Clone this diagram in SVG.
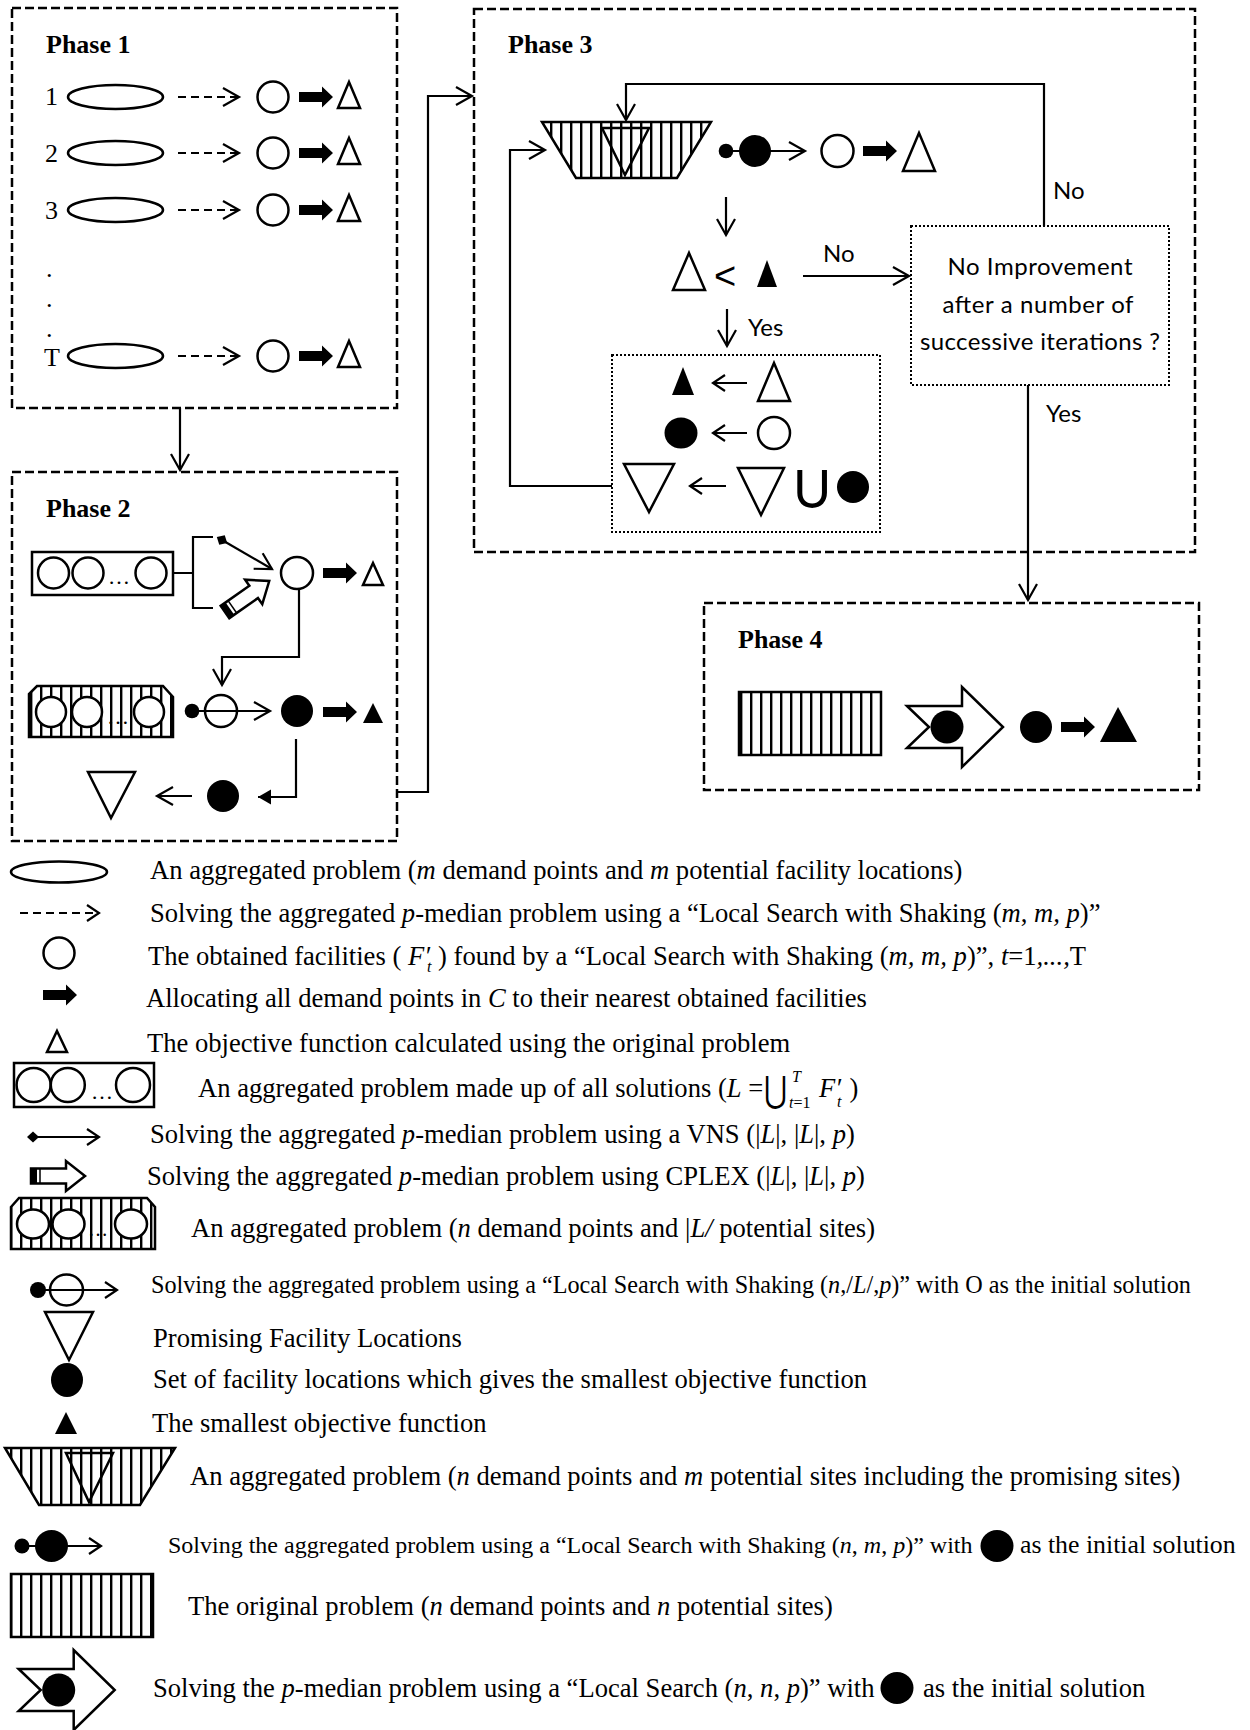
<svg xmlns="http://www.w3.org/2000/svg" width="1250" height="1730" viewBox="0 0 1250 1730">
<style>
.s{fill:none;stroke:#000;stroke-width:2.2}
.o{fill:#fff;stroke:#000;stroke-width:2.5}
.on{fill:none;stroke:#000;stroke-width:2.5}
.f{fill:#000}
.box{fill:none;stroke:#000;stroke-width:2.5;stroke-dasharray:9 4}
.dotb{fill:none;stroke:#000;stroke-width:2;stroke-dasharray:2 2}
.dash{fill:none;stroke:#000;stroke-width:2.2;stroke-dasharray:8 5}
.stp{fill:url(#st);stroke:#000;stroke-width:2.5}
.ph{font-family:'Liberation Serif',serif;font-weight:bold;font-size:26px}
.t{font-family:'Liberation Serif',serif;font-size:26.6px}
.n{font-family:'Liberation Serif',serif;font-size:26px}
.sm{font-size:16px}
.i{font-style:italic}
.c{font-family:Lato,'Liberation Sans',sans-serif;font-size:24px}
.a{marker-end:url(#ah)}
.a2{marker-end:url(#ah2)}
</style>
<defs>
<marker id="ah" markerUnits="userSpaceOnUse" orient="auto" overflow="visible"><path d="M-16,-9 L0,0 L-16,9" fill="none" stroke="#000" stroke-width="2.2"/></marker>
<marker id="ah2" markerUnits="userSpaceOnUse" orient="auto" overflow="visible"><path d="M-12,-8 L0,0 L-12,8" fill="none" stroke="#000" stroke-width="2.2"/></marker>
<marker id="ahf" markerUnits="userSpaceOnUse" orient="auto" overflow="visible"><path d="M0,0 L-13,-7.5 L-13,7.5 Z" fill="#000"/></marker>
<marker id="dia" markerUnits="userSpaceOnUse" orient="auto" overflow="visible"><path d="M-6,0 L0,-5.5 L6,0 L0,5.5 Z" fill="#000"/></marker>
<pattern id="st" patternUnits="userSpaceOnUse" width="10" height="10"><rect width="10" height="10" fill="#fff"/><rect width="2.4" height="10" fill="#000"/></pattern>
<path id="fat" d="M0,-5 H23 V-10.5 L34,0 L23,10.5 V5 H0 Z" fill="#000"/>
<path id="tri" d="M0,-15 L11,11 L-11,11 Z" fill="none" stroke="#000" stroke-width="2.5"/>
<g id="blk"><path d="M0,-7.5 H35 V-15 L54,0 L35,15 V7.5 H0 Z" fill="#fff" stroke="#000" stroke-width="2.5"/><rect x="0" y="-7.5" width="6" height="15" fill="#000"/><line x1="9" y1="-7.5" x2="9" y2="7.5" stroke="#000" stroke-width="1.5"/></g>
<g id="notch"><path d="M0,-21 L22,0 L0,21 H55 V40 L96,0 L55,-40 V-21 Z" fill="#fff" stroke="#000" stroke-width="2.5"/><circle cx="40" cy="0" r="16.5" fill="#000"/></g>
</defs>
<rect width="1250" height="1730" fill="#fff"/>

<g id="phase1">
<rect class="box" x="12" y="8" width="385" height="400"/>
<text class="ph" x="46" y="53">Phase 1</text>
<text class="n" x="45" y="105">1</text>
<ellipse class="on" cx="115.5" cy="97" rx="47.5" ry="12"/>
<line class="dash a" x1="178" y1="97" x2="239" y2="97"/>
<circle class="on" cx="273" cy="97" r="15.5"/>
<use href="#fat" x="299" y="97"/>
<use href="#tri" x="349" y="97"/>
<text class="n" x="45" y="162">2</text>
<ellipse class="on" cx="115.5" cy="153" rx="47.5" ry="12"/>
<line class="dash a" x1="178" y1="153" x2="239" y2="153"/>
<circle class="on" cx="273" cy="153" r="15.5"/>
<use href="#fat" x="299" y="153"/>
<use href="#tri" x="349" y="153"/>
<text class="n" x="45" y="219">3</text>
<ellipse class="on" cx="115.5" cy="210" rx="47.5" ry="12"/>
<line class="dash a" x1="178" y1="210" x2="239" y2="210"/>
<circle class="on" cx="273" cy="210" r="15.5"/>
<use href="#fat" x="299" y="210"/>
<use href="#tri" x="349" y="210"/>
<text class="n" x="46" y="277">.</text>
<text class="n" x="46" y="307">.</text>
<text class="n" x="46" y="337">.</text>
<text class="n" x="44" y="366">T</text>
<ellipse class="on" cx="115.5" cy="356" rx="47.5" ry="12"/>
<line class="dash a" x1="178" y1="356" x2="239" y2="356"/>
<circle class="on" cx="273" cy="356" r="15.5"/>
<use href="#fat" x="299" y="356"/>
<use href="#tri" x="349" y="356"/>
</g>

<g id="phase2">
<rect class="box" x="12" y="472" width="385" height="369"/>
<text class="ph" x="46" y="517">Phase 2</text>
</g>
<g id="p2-union">
<rect class="on" x="32" y="552" width="141" height="43"/>
<circle class="on" cx="53.5" cy="573" r="15.5"/>
<circle class="on" cx="88" cy="573" r="15.5"/>
<circle class="on" cx="151" cy="573" r="15.5"/>
<text class="n" x="119" y="584" text-anchor="middle" style="font-size:22px">…</text>
</g>
<g id="p2-solvers">
<path class="s" d="M173,573 H193 M213,537 H193 V608 H213"/>
<line class="s a" x1="222" y1="540" x2="272" y2="569" marker-start="url(#dia)"/>
<use href="#blk" transform="translate(225,612) rotate(-35)"/>
</g>
<g id="p2-result1">
<circle class="on" cx="297" cy="573" r="16"/>
<use href="#fat" x="323" y="573"/>
<polygon class="on" points="373,563 383,585 363,585"/>
</g>
<g id="p2-problem">
<polygon class="stp" points="37,686 163,686 173,697 173,737 29,737 29,694"/>
<circle class="o" cx="51" cy="712" r="15"/>
<circle class="o" cx="87" cy="712" r="15"/>
<circle class="o" cx="149" cy="712" r="15"/>
<text class="n" x="118" y="724" text-anchor="middle" style="font-size:22px">…</text>
</g>
<g id="p2-solver">
<circle class="f" cx="192" cy="711" r="7.3"/>
<circle class="on" cx="221" cy="711" r="16"/>
<line class="s a" x1="192" y1="711" x2="270" y2="711"/>
</g>
<g id="p2-result2">
<circle class="f" cx="297" cy="711" r="16"/>
<use href="#fat" x="323" y="712"/>
<polygon class="f" points="373,703 383,723 363,723"/>
</g>
<g id="p2-best"><circle class="f" cx="223" cy="796" r="16"/></g>
<g id="p2-promising"><polygon class="on" points="88,772 135,772 111,818"/></g>

<g id="phase3">
<rect class="box" x="474" y="9" width="721" height="543"/>
<text class="ph" x="508" y="53">Phase 3</text>
</g>
<g id="p3-problem">
<polygon class="stp" points="542,122 711,122 677,178 576,178"/>
<polygon class="on" points="602,128 649,128 625,175"/>
</g>
<g id="p3-solver">
<circle class="f" cx="726" cy="151" r="7.3"/>
<circle class="f" cx="755" cy="151" r="16"/>
<line class="s a" x1="726" y1="151" x2="805" y2="151"/>
</g>
<g id="p3-eval">
<circle class="on" cx="837.5" cy="151" r="16"/>
<use href="#fat" x="863" y="151"/>
<polygon class="on" points="919,133 935,171 903,171"/>
</g>
<g id="p3-compare">
<polygon class="on" points="689,253 705,290 673,290"/>
<text x="714" y="289" font-family="'Liberation Sans',sans-serif" font-size="38">&lt;</text>
<polygon class="f" points="767,260 777,287 757,287"/>
</g>
<g id="p3-update">
<rect class="dotb" x="612" y="355" width="268" height="177"/>
<polygon class="f" points="683,367 694,395 672,395"/>
<line class="s a2" x1="747" y1="383" x2="713" y2="383"/>
<polygon class="on" points="774,363 790,401 758,401"/>
<ellipse class="f" cx="681" cy="433" rx="16.5" ry="15.5"/>
<line class="s a2" x1="747" y1="433" x2="713" y2="433"/>
<circle class="on" cx="774" cy="433" r="16"/>
<polygon class="on" points="624,464 674,464 649,512"/>
<line class="s a2" x1="726" y1="486" x2="690" y2="486"/>
<polygon class="on" points="738,468 784,468 761,515"/>
<text x="793" y="508" font-family="Lato,'Liberation Sans',sans-serif" font-size="52">U</text>
<circle class="f" cx="853" cy="487" r="16"/>
</g>
<g id="p3-check">
<rect class="dotb" x="911" y="226" width="258" height="159"/>
<text class="c" x="1040" y="275" text-anchor="middle" textLength="185">No Improvement</text>
<text class="c" x="1038" y="313" text-anchor="middle" textLength="191">after a number of</text>
<text class="c" x="1040" y="350" text-anchor="middle" textLength="240">successive iterations ?</text>
</g>

<g id="phase4">
<rect class="box" x="704" y="603" width="495" height="187"/>
<text class="ph" x="738" y="648">Phase 4</text>
</g>
<g id="p4-original"><rect class="stp" x="739" y="692" width="142" height="63"/></g>
<g id="p4-search"><use href="#notch" x="907" y="727"/></g>
<g id="p4-result">
<circle class="f" cx="1036" cy="727" r="16"/>
<use href="#fat" x="1061" y="727"/>
<polygon class="f" points="1118,707 1137,742 1100,742"/>
</g>

<g id="connectors">
<path class="s a" d="M180,408 V470"/>
<path class="s a" d="M397,792 H428 V96 H472"/>
<path class="s a" d="M299,589 V657 H222 V685"/>
<path class="s" d="M296,739 V797 H258" marker-end="url(#ahf)"/>
<path class="s a" d="M192,796 H157"/>
<path class="s a" d="M1044,226 V84 H626 V120"/>
<path class="s a" d="M612,486 H510 V150 H545"/>
<path class="s a" d="M726,197 V235"/>
<path class="s a" d="M803,276 H909"/>
<path class="s a" d="M727,309 V346"/>
<path class="s a" d="M1028,385 V600"/>
<text class="c" x="823" y="262">No</text>
<text class="c" x="748" y="336">Yes</text>
<text class="c" x="1053" y="199">No</text>
<text class="c" x="1046" y="422">Yes</text>
</g>

<g id="legend">
<g id="lg1"><ellipse class="on" cx="59" cy="872" rx="48" ry="10.5"/>
<text class="t" x="150" y="879">An aggregated problem (<tspan class="i">m</tspan> demand points and <tspan class="i">m</tspan> potential facility locations)</text></g>
<g id="lg2"><line class="dash a2" x1="20" y1="913" x2="99" y2="913"/>
<text class="t" x="150" y="922">Solving the aggregated <tspan class="i">p</tspan>-median problem using a “Local Search with Shaking (<tspan class="i">m</tspan>, <tspan class="i">m, p</tspan>)”</text></g>
<g id="lg3"><circle class="on" cx="59" cy="953" r="15.5"/>
<text class="t" x="148" y="965">The obtained facilities ( <tspan class="i">F′</tspan><tspan class="i sm" dx="-3" dy="7">t</tspan><tspan dy="-7"> ) found by a “Local Search with Shaking (</tspan><tspan class="i">m, m, p</tspan>)”, <tspan class="i">t</tspan>=1<tspan class="i">,...,</tspan>T</text></g>
<g id="lg4"><use href="#fat" x="43" y="995"/>
<text class="t" x="146" y="1007">Allocating all demand points in <tspan class="i">C</tspan> to their nearest obtained facilities</text></g>
<g id="lg5"><polygon class="on" points="57,1031 67,1052 47,1052"/>
<text class="t" x="147" y="1052">The objective function calculated using the original problem</text></g>
<g id="lg6"><rect class="on" x="14" y="1063" width="140" height="44"/>
<circle class="on" cx="33.6" cy="1085" r="17"/>
<circle class="on" cx="67.8" cy="1085" r="17"/>
<circle class="on" cx="133" cy="1085" r="17"/>
<text class="n" x="102" y="1099" text-anchor="middle" style="font-size:22px">…</text>
<text class="t" x="198" y="1097">An aggregated problem made up of all solutions (<tspan class="i">L</tspan> =</text>
<text x="0" y="0" font-family="'DejaVu Serif',serif" font-size="36" transform="translate(764,1102) scale(0.78,1)">⋃</text>
<text class="t i sm" x="792" y="1082">T</text>
<text class="t sm" x="789" y="1108"><tspan class="i">t</tspan>=1</text>
<text class="t i" x="819" y="1097">F′<tspan class="sm" dx="-4" dy="10">t</tspan><tspan class="i" style="font-style:normal" dx="8" dy="-10">)</tspan></text></g>
<g id="lg7"><line class="s a2" x1="33" y1="1137" x2="99" y2="1137" marker-start="url(#dia)"/>
<text class="t" x="150" y="1143">Solving the aggregated <tspan class="i">p</tspan>-median problem using a VNS (|<tspan class="i">L</tspan>|, |<tspan class="i">L</tspan>|, <tspan class="i">p</tspan>)</text></g>
<g id="lg8"><use href="#blk" transform="translate(31,1176)"/>
<text class="t" x="147" y="1185">Solving the aggregated <tspan class="i">p</tspan>-median problem using CPLEX (|<tspan class="i">L</tspan>|, |<tspan class="i">L</tspan>|, <tspan class="i">p</tspan>)</text></g>
<g id="lg9"><polygon class="stp" points="11,1207 19,1198 147,1198 155,1207 155,1249 11,1249"/>
<ellipse class="o" cx="33" cy="1224" rx="16" ry="14.5"/>
<ellipse class="o" cx="68.5" cy="1224" rx="16" ry="14.5"/>
<ellipse class="o" cx="131" cy="1224" rx="16" ry="14.5"/>
<text class="n" x="98" y="1236" text-anchor="middle" style="font-size:20px">…</text>
<text class="t" x="191" y="1237">An aggregated problem (<tspan class="i">n</tspan> demand points and |<tspan class="i">L/</tspan> potential sites)</text></g>
<g id="lg10"><circle class="f" cx="38" cy="1290" r="8"/>
<ellipse class="on" cx="66.5" cy="1290" rx="16.5" ry="15.5"/>
<line class="s a2" x1="38" y1="1290" x2="117" y2="1290"/>
<text class="t" x="151" y="1293" style="font-size:24.2px">Solving the aggregated problem using a “Local Search with Shaking (<tspan class="i">n</tspan>,/<tspan class="i">L</tspan>/,<tspan class="i">p</tspan>)” with O as the initial solution</text></g>
<g id="lg11"><polygon class="on" points="45,1312 93,1312 69,1360"/>
<text class="t" x="153" y="1347">Promising Facility Locations</text></g>
<g id="lg12"><ellipse class="f" cx="67" cy="1380" rx="16" ry="17"/>
<text class="t" x="153" y="1388">Set of facility locations which gives the smallest objective function</text></g>
<g id="lg13"><polygon class="f" points="66,1412 77,1434 55,1434"/>
<text class="t" x="152" y="1432">The smallest objective function</text></g>
<g id="lg14"><polygon class="stp" points="5,1448 175,1448 140,1505 39,1505"/>
<polygon class="on" points="66,1453 113,1453 89,1502"/>
<text class="t" x="190" y="1485">An aggregated problem (<tspan class="i">n</tspan> demand points and <tspan class="i">m</tspan> potential sites including the promising sites)</text></g>
<g id="lg15"><circle class="f" cx="22" cy="1546" r="7.5"/>
<ellipse class="f" cx="51.5" cy="1546" rx="16.5" ry="16"/>
<line class="s a2" x1="22" y1="1546" x2="101" y2="1546"/>
<text class="t" x="168" y="1553" style="font-size:24px">Solving the aggregated problem using a “Local Search with Shaking (<tspan class="i">n</tspan>, <tspan class="i">m</tspan>, <tspan class="i">p</tspan>)” with</text>
<ellipse class="f" cx="997" cy="1546" rx="16.5" ry="16"/>
<text class="t" x="1020" y="1553" style="font-size:25.8px">as the initial solution</text></g>
<g id="lg16"><rect class="stp" x="11" y="1574" width="142" height="63"/>
<text class="t" x="188" y="1615">The original problem (<tspan class="i">n</tspan> demand points and <tspan class="i">n</tspan> potential sites)</text></g>
<g id="lg17"><use href="#notch" x="18.7" y="1690"/>
<text class="t" x="153" y="1697">Solving the <tspan class="i">p</tspan>-median problem using a “Local Search (<tspan class="i">n</tspan>, <tspan class="i">n</tspan>, <tspan class="i">p</tspan>)” with</text>
<ellipse class="f" cx="897" cy="1688" rx="16.5" ry="16"/>
<text class="t" x="923" y="1697">as the initial solution</text></g>
</g>
</svg>
